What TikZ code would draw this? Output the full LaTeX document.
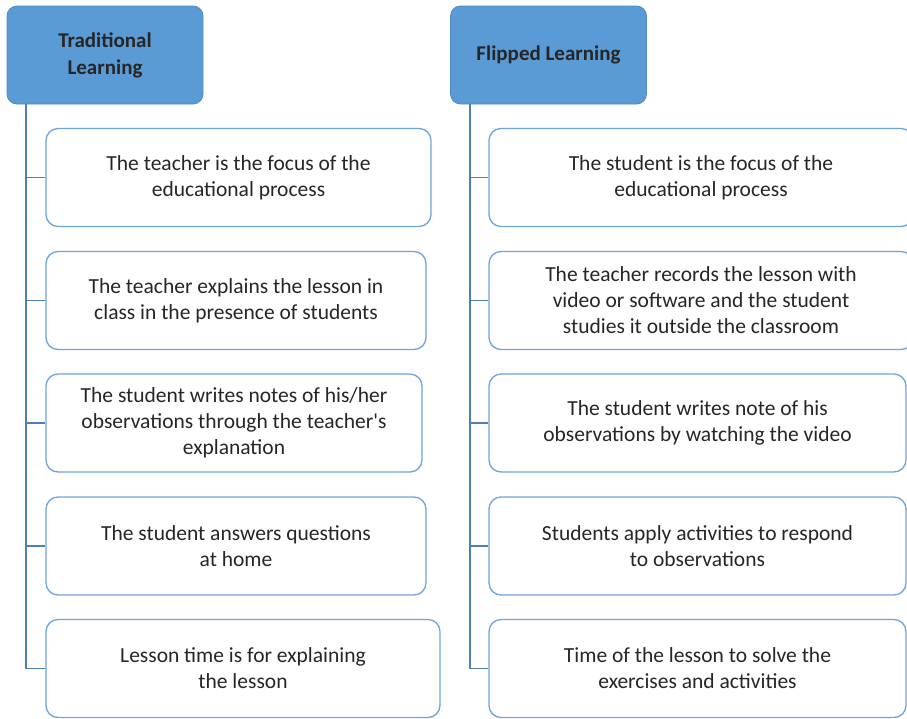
\documentclass[tikz,border=0pt]{standalone}
\usepackage{fontspec}
\setmainfont{Carlito}
\definecolor{hdrfill}{HTML}{5B9BD5}
\definecolor{bdrc}{HTML}{6FA3DC}
\definecolor{connc}{HTML}{4F7FB8}
\definecolor{txtc}{HTML}{262626}
\begin{document}
\begin{tikzpicture}[x=1pt,y=-1pt,
  hbox/.style={draw=hdrfill!90!black, fill=hdrfill, rounded corners=10pt, line width=0.8pt,
    text=txtc, font=\fontsize{21}{27}\selectfont\bfseries, align=center,
    minimum width=196pt, minimum height=98pt, inner sep=0pt},
  ibox/.style={draw=bdrc, fill=white, rounded corners=12pt, line width=1.3pt,
    text=txtc, font=\fontsize{21.5}{26}\selectfont, align=center,
    inner sep=0pt, minimum height=98pt},
  link/.style={draw=connc, line width=1.6pt}]
\useasboundingbox (0,0) rectangle (907,718);
\clip (0,0) rectangle (907,718);

% headers
\node[hbox] (lh) at (105,55) {Traditional\\Learning};
\node[hbox] (rh) at (548.5,55) {Flipped Learning};

% left column
\node[ibox, minimum width=385pt] (l1) at (238.5,177.5) {The teacher is the focus of the\\educational process};
\node[ibox, minimum width=380pt] (l2) at (236,300.5) {The teacher explains the lesson in\\class in the presence of students};
\node[ibox, minimum width=376pt] (l3) at (234,423) {The student writes notes of his/her\\observations through the teacher\textquotesingle s\\explanation};
\node[ibox, minimum width=380pt] (l4) at (236,546) {The student answers questions\\at home};
\node[ibox, minimum width=394pt] (l5) at (243,668.5) {Lesson time is for explaining\\the lesson};

% right column
\node[ibox, minimum width=424pt] (r1) at (701,177.5) {The student is the focus of the\\educational process};
\node[ibox, minimum width=424pt] (r2) at (701,300.5) {The teacher records the lesson with\\video or software and the student\\studies it outside the classroom};
\node[ibox, minimum width=417pt] (r3) at (697.5,423) {The student writes note of his\\observations by watching the video};
\node[ibox, minimum width=417pt] (r4) at (697.5,546) {Students apply activities to respond\\to observations};
\node[ibox, minimum width=417pt] (r5) at (697.5,668.5) {Time of the lesson to solve the\\exercises and activities};

% connectors
\coordinate (lv) at (26,0);
\coordinate (rv) at (470,0);
\draw[link] (lh.south -| lv) |- (l5.west);
\foreach \n in {l1,l2,l3,l4} \draw[link, line width=1.3pt] (\n.west -| lv) -- (\n.west);
\draw[link] (rh.south -| rv) |- (r5.west);
\foreach \n in {r1,r2,r3,r4} \draw[link, line width=1.3pt] (\n.west -| rv) -- (\n.west);
\end{tikzpicture}
\end{document}
